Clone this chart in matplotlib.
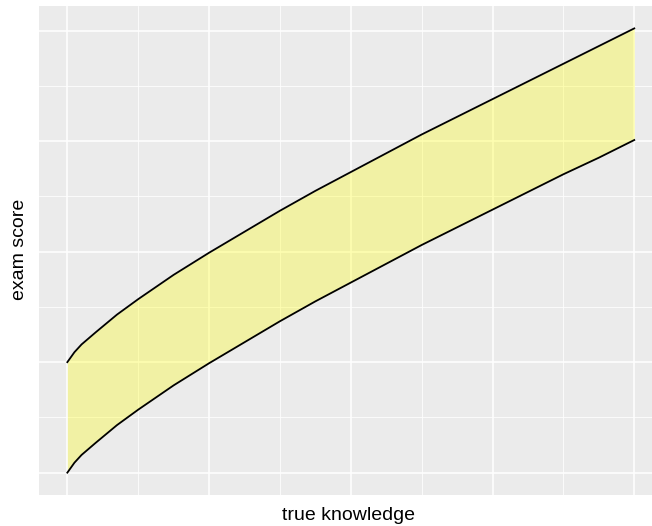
import matplotlib
matplotlib.use("Agg")
import matplotlib.pyplot as plt

# true knowledge (grid units) and band edges of exam score
knowledge = [0.0, 0.05, 0.1, 0.2, 0.35, 0.5, 0.75, 1.0, 1.25, 1.5, 1.75, 2.0,
             2.25, 2.5, 2.75, 3.0, 3.25, 3.5, 3.75, 4.0]
score_low = [0.00, 0.09, 0.16, 0.27, 0.43, 0.57, 0.79, 0.99, 1.18, 1.37, 1.55,
             1.72, 1.89, 2.06, 2.22, 2.38, 2.54, 2.70, 2.85, 3.01]
score_high = [1.00, 1.09, 1.16, 1.27, 1.43, 1.57, 1.79, 1.99, 2.18, 2.37, 2.55,
              2.72, 2.89, 3.06, 3.22, 3.38, 3.54, 3.70, 3.86, 4.02]
major_ticks = [0, 1, 2, 3, 4]
minor_ticks = [0.5, 1.5, 2.5, 3.5]

plt.rcParams['font.family'] = ['Liberation Sans', 'DejaVu Sans']

W, H = 652, 526
fig = plt.figure(figsize=(W / 100, H / 100), dpi=100)
left, right = 39, 662.6
top, bottom = 6.3, 494.75
ax = fig.add_axes([left / W, 1 - bottom / H, (right - left) / W, (bottom - top) / H])
ax.set_facecolor('#EBEBEB')
ax.set_xlim(-0.2, 4.2)
ax.set_ylim(-0.2, 4.22)

for t in major_ticks:
    ax.axvline(t, color='white', lw=1.1, zorder=1)
    ax.axhline(t, color='white', lw=1.1, zorder=1)
for t in minor_ticks:
    ax.axvline(t, color='white', lw=0.55, zorder=1)
    ax.axhline(t, color='white', lw=0.55, zorder=1)

ax.fill_between(knowledge, score_low, score_high, color='yellow', alpha=0.3,
                lw=0, zorder=2)
ax.plot(knowledge, score_low, color='black', lw=1.3, zorder=3)
ax.plot(knowledge, score_high, color='black', lw=1.3, zorder=3)

ax.set_xticks([])
ax.set_yticks([])
for s in ax.spines.values():
    s.set_visible(False)

fig.text(349 / W, 1 - 515 / H, 'true knowledge', ha='center', va='center',
         fontsize=14, color='black')
fig.text(20 / W, 1 - 249 / H, 'exam score', ha='center', va='center',
         rotation=90, fontsize=14, color='black')

fig.savefig('out.png', dpi=100, facecolor='white')
